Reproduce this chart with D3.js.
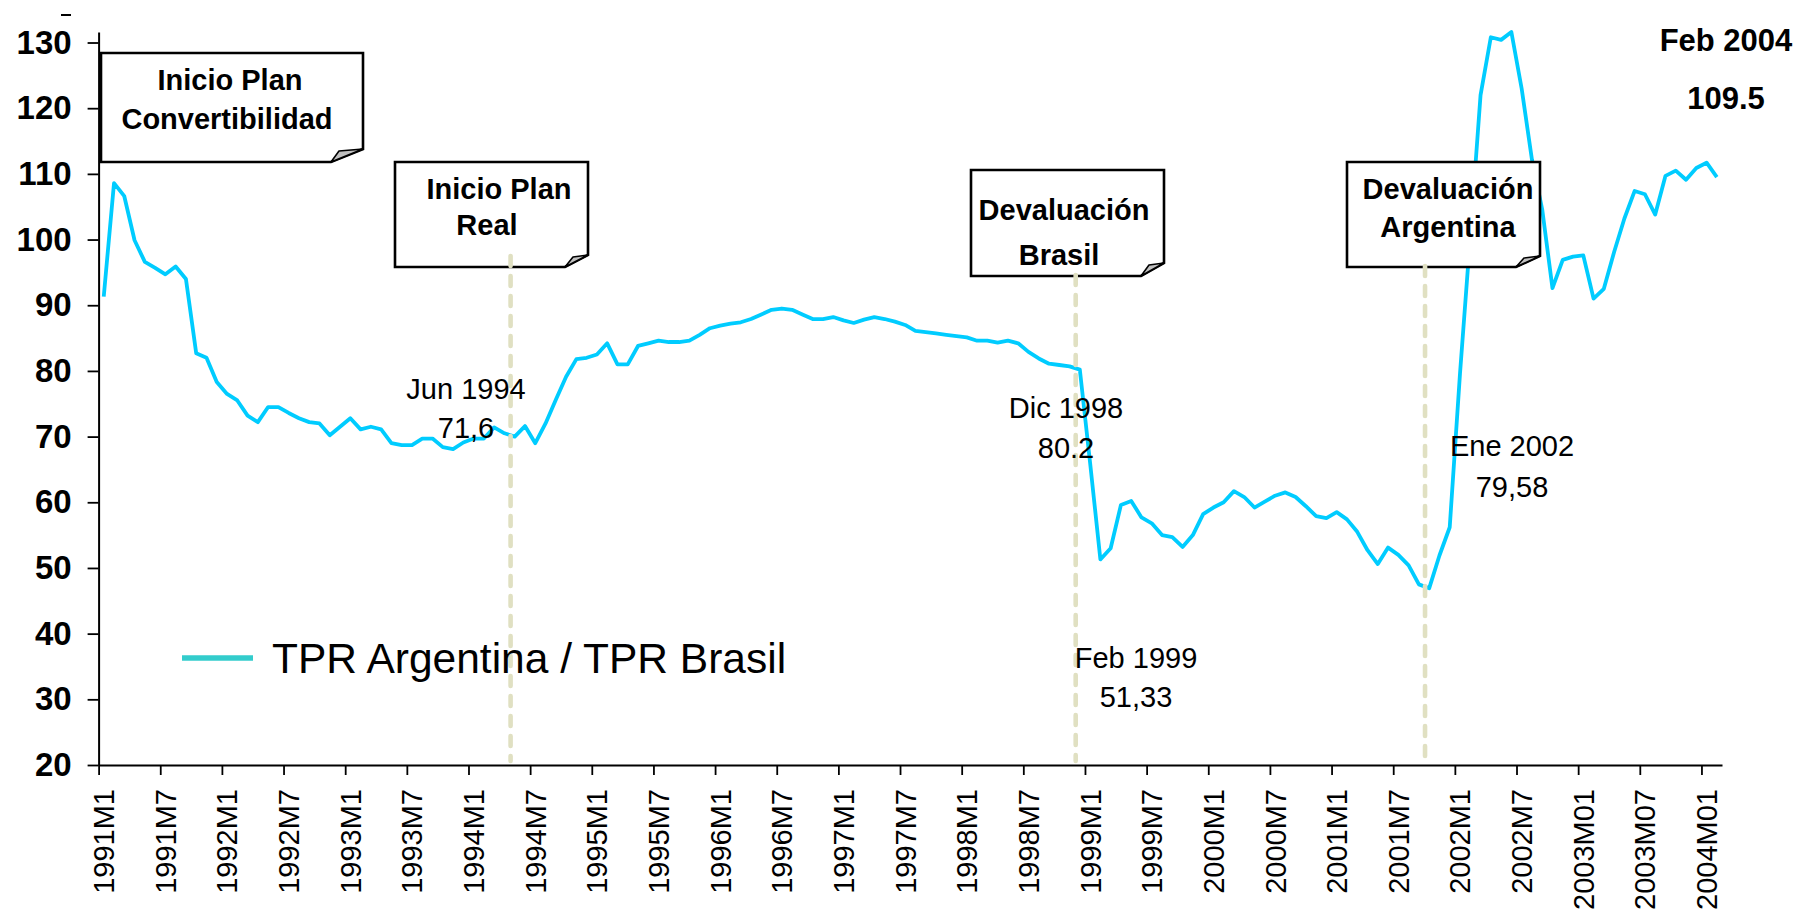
<!DOCTYPE html>
<html>
<head>
<meta charset="utf-8">
<script src="https://cdn.jsdelivr.net/npm/d3@7.9.0/dist/d3.min.js"></script>
<style>
  html, body { margin: 0; padding: 0; background: #fff; }
  svg { display: block; font-family: "Liberation Sans", Arial, sans-serif; }
</style>
</head>
<body>
<svg id="chart" width="1798" height="916"></svg>
<script>
// monthly categories 1991M1 .. 2004M2
const categories = [];
for (let yr = 1991; yr <= 2004; yr++) {
  for (let m = 1; m <= 12; m++) {
    if (yr === 2004 && m > 2) break;
    categories.push(yr + 'M' + m);
  }
}

// TPR Argentina / TPR Brasil
const tprRatio = [
  91.3, 108.6, 106.6, 99.9, 96.6, 95.7, 94.7, 95.9, 94.0, 82.7, 82.0, 78.3,   // 1991
  76.5, 75.5, 73.2, 72.2, 74.5, 74.5, 73.6, 72.8, 72.2, 72.0, 70.2, 71.5,     // 1992
  72.8, 71.1, 71.5, 71.1, 69.0, 68.7, 68.7, 69.7, 69.7, 68.4, 68.1, 69.1,     // 1993
  69.7, 69.7, 71.4, 70.5, 70.0, 71.6, 69.0, 72.0, 75.6, 79.1, 81.8, 82.0,     // 1994
  82.5, 84.2, 81.0, 81.0, 83.8, 84.2, 84.6, 84.4, 84.4, 84.6, 85.5, 86.5,     // 1995
  86.9, 87.2, 87.4, 87.9, 88.6, 89.3, 89.5, 89.3, 88.6, 87.9, 87.9, 88.2,     // 1996
  87.7, 87.3, 87.8, 88.2, 87.9, 87.5, 87.0, 86.1, 85.9, 85.7, 85.5, 85.3,     // 1997
  85.1, 84.6, 84.6, 84.3, 84.6, 84.2, 82.9, 81.9, 81.1, 80.9, 80.7, 80.2,     // 1998
  66.0, 51.3, 53.0, 59.6, 60.2, 57.7, 56.8, 55.0, 54.7, 53.2, 55.0, 58.2,     // 1999
  59.2, 60.0, 61.7, 60.8, 59.2, 60.1, 61.0, 61.5, 60.8, 59.4, 57.9, 57.6,     // 2000
  58.5, 57.4, 55.5, 52.7, 50.6, 53.1, 52.0, 50.4, 47.5, 46.9, 51.9, 56.2,     // 2001
  79.6, 100.5, 122.0, 130.8, 130.4, 131.6, 123.0, 112.2, 104.6, 92.6, 96.9, 97.4, // 2002
  97.6, 91.0, 92.5, 98.1, 103.2, 107.4, 106.9, 103.8, 109.7, 110.5, 109.1, 110.9, // 2003
  111.7, 109.5                                                                // 2004
];

const tickLabels = [
  '1991M1', '1991M7', '1992M1', '1992M7', '1993M1', '1993M7', '1994M1', '1994M7',
  '1995M1', '1995M7', '1996M1', '1996M7', '1997M1', '1997M7', '1998M1', '1998M7',
  '1999M1', '1999M7', '2000M1', '2000M7', '2001M1', '2001M7', '2002M1', '2002M7',
  '2003M01', '2003M07', '2004M01'
];
const yTicks = [20, 30, 40, 50, 60, 70, 80, 90, 100, 110, 120, 130];

// events: dashed marker month + callout text
const eventMonths = ['1994M5', '1998M12', '2001M10'];
const calloutLines = [
  ['Inicio Plan', 'Convertibilidad'],
  ['Inicio Plan', 'Real'],
  ['Devaluación', 'Brasil'],
  ['Devaluación', 'Argentina']
];
const pointLabels = [
  ['Jun 1994', '71,6'],
  ['Dic 1998', '80.2'],
  ['Feb 1999', '51,33'],
  ['Ene 2002', '79,58']
];
const lastLabel = ['Feb 2004', '109.5'];
const seriesName = 'TPR Argentina / TPR Brasil';

// ---- layout ----
const L = 98.6, R = 1722, T = 32, B = 765;
const lineColor = '#00CCFF';
const legendColor = '#33CCCC';
const dashColor = '#E0E0C2';

// box geometry: left, top, right, bottom, fold x on bottom, fold y on right
const boxes = [
  { l: 101, t: 53, r: 363, b: 162, fx: 331, fy: 149, cx: [230, 227], by: [90, 129] },
  { l: 395, t: 162, r: 588, b: 267, fx: 565, fy: 255, cx: [499, 487], by: [199, 235] },
  { l: 971, t: 170, r: 1164, b: 276, fx: 1141, fy: 263, cx: [1064, 1059], by: [220, 265] },
  { l: 1347, t: 162, r: 1540, b: 267, fx: 1516, fy: 256, cx: [1448, 1448], by: [199, 237] }
];
const dashTops = [256, 275, 266];
const pointLabelPos = [
  { x: 466, y: [399, 438] },
  { x: 1066, y: [418, 458] },
  { x: 1136, y: [668, 707] },
  { x: 1512, y: [456, 497] }
];

const svg = d3.select('#chart');

const x = d3.scaleBand().domain(categories).range([L, R]).padding(0);
const xIdx = d3.scaleLinear().domain([0, categories.length]).range([L, R]);
const y = d3.scaleLinear().domain([20, 131.6]).range([B, T]);

// series line
const line = d3.line()
  .x((d, i) => x(categories[i]) + x.bandwidth() / 2)
  .y(d => y(d));

svg.append('path')
  .datum(tprRatio)
  .attr('d', line)
  .attr('fill', 'none')
  .attr('stroke', lineColor)
  .attr('stroke-width', 3.8)
  .attr('stroke-linejoin', 'round');

// callout boxes with folded corner
const callouts = svg.append('g').attr('class', 'callouts');
boxes.forEach((bx, k) => {
  const g = callouts.append('g');
  g.append('path')
    .attr('d', `M${bx.l},${bx.t}H${bx.r}V${bx.fy}L${bx.fx},${bx.b}H${bx.l}Z`)
    .attr('fill', '#fff')
    .attr('stroke', '#000')
    .attr('stroke-width', 2.6);
  g.append('path')
    .attr('d', `M${bx.fx},${bx.b}L${bx.fx + 8},${bx.fy + 2}L${bx.r},${bx.fy}Z`)
    .attr('fill', '#c0c0c0')
    .attr('stroke', '#000')
    .attr('stroke-width', 1.6)
    .attr('stroke-linejoin', 'round');
  calloutLines[k].forEach((txt, j) => {
    g.append('text')
      .attr('x', bx.cx[j])
      .attr('y', bx.by[j])
      .attr('text-anchor', 'middle')
      .attr('font-size', 29)
      .attr('font-weight', 'bold')
      .text(txt);
  });
});

// dashed event markers
svg.append('g')
  .selectAll('line')
  .data(eventMonths)
  .join('line')
  .attr('x1', d => x(d) + 1)
  .attr('x2', d => x(d) + 1)
  .attr('y1', (d, i) => dashTops[i])
  .attr('y2', y(20) - 4)
  .attr('stroke', dashColor)
  .attr('stroke-width', 4.6)
  .attr('stroke-dasharray', '10 10')
  .attr('stroke-linecap', 'round');

// y axis
const yAxis = svg.append('g')
  .attr('transform', `translate(${L},0)`)
  .call(d3.axisLeft(y).tickValues(yTicks).tickSize(11).tickSizeOuter(0).tickPadding(16));
yAxis.select('.domain').attr('stroke', '#000').attr('stroke-width', 2);
yAxis.selectAll('.tick line').attr('stroke', '#000').attr('stroke-width', 1.8);
yAxis.selectAll('.tick text')
  .attr('font-size', 33)
  .attr('font-weight', 'bold')
  .attr('font-family', '"Liberation Sans", Arial, sans-serif')
  .attr('fill', '#000');

// x axis: tick marks every 6 months at category boundaries
const xTicks = svg.append('g')
  .attr('transform', `translate(0,${B})`)
  .call(d3.axisBottom(xIdx)
    .tickValues(d3.range(0, categories.length, 6))
    .tickSize(10).tickSizeOuter(0).tickFormat(''));
xTicks.select('.domain').attr('stroke', '#000').attr('stroke-width', 2);
xTicks.selectAll('.tick line').attr('stroke', '#000').attr('stroke-width', 1.8);

// x labels centred on their month
const labelCats = categories.filter((d, i) => i % 6 === 0);
svg.append('g')
  .selectAll('text')
  .data(labelCats)
  .join('text')
  .attr('transform', d => `translate(${x(d) + x.bandwidth() / 2},${B + 24}) rotate(-90)`)
  .attr('text-anchor', 'end')
  .attr('dy', '0.36em')
  .attr('font-size', 29)
  .text((d, i) => tickLabels[i]);

// plain value labels
pointLabels.forEach((pair, k) => {
  pair.forEach((txt, j) => {
    svg.append('text')
      .attr('x', pointLabelPos[k].x)
      .attr('y', pointLabelPos[k].y[j])
      .attr('text-anchor', 'middle')
      .attr('font-size', 29)
      .text(txt);
  });
});

// last value label
lastLabel.forEach((txt, j) => {
  svg.append('text')
    .attr('x', 1726)
    .attr('y', [51, 109][j])
    .attr('text-anchor', 'middle')
    .attr('font-size', 31)
    .attr('font-weight', 'bold')
    .text(txt);
});

// stray dash at top left
svg.append('line')
  .attr('x1', 61).attr('x2', 71)
  .attr('y1', 15).attr('y2', 15)
  .attr('stroke', '#000').attr('stroke-width', 2);

// legend
const legend = svg.append('g').attr('transform', 'translate(182,658)');
legend.append('line')
  .attr('x1', 0).attr('x2', 71)
  .attr('stroke', legendColor)
  .attr('stroke-width', 5.5);
legend.append('text')
  .attr('x', 90)
  .attr('y', 15)
  .attr('font-size', 42.5)
  .text(seriesName);
</script>
</body>
</html>
